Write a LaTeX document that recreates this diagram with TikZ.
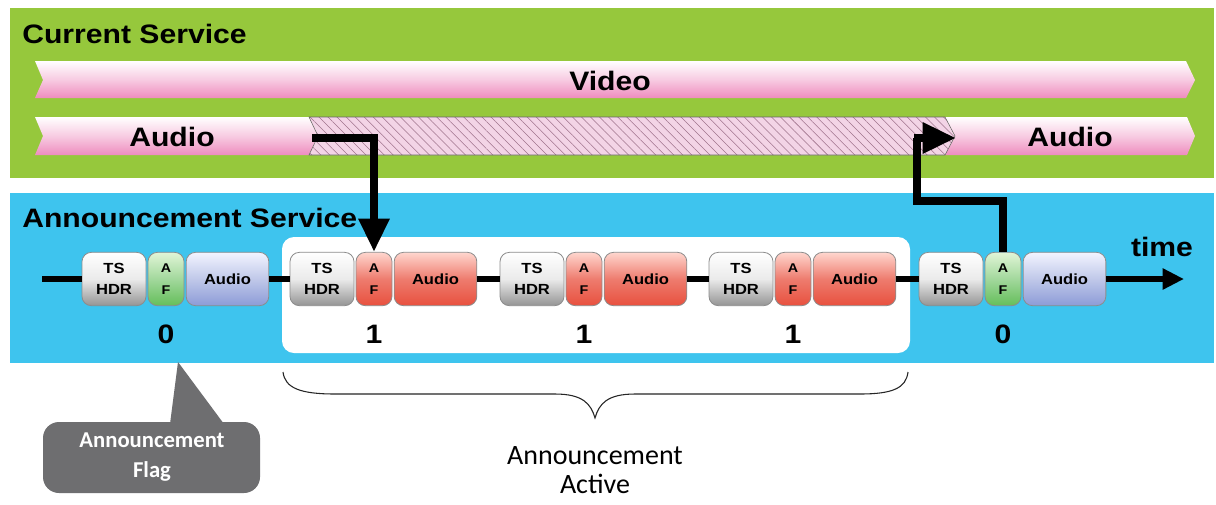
\documentclass[tikz,border=0pt]{standalone}
\usepackage{fontspec}
\setmainfont{Liberation Sans}
\newfontfamily\widesans[FakeStretch=1.13]{Liberation Sans}
\newfontfamily\carl{Carlito}
\usetikzlibrary{arrows.meta,patterns.meta}
\definecolor{greenbg}{RGB}{150,200,60}
\definecolor{bluebg}{RGB}{62,196,238}
\definecolor{pinkband}{RGB}{238,140,190}
\definecolor{hatchfill}{RGB}{243,212,230}
\definecolor{hatchline}{RGB}{160,115,140}
\definecolor{calloutgray}{RGB}{110,110,112}
\definecolor{pktred}{RGB}{232,80,62}
\definecolor{pktredtop}{RGB}{255,214,206}
\definecolor{pktgreen}{RGB}{100,190,90}
\definecolor{pktgreentop}{RGB}{225,245,215}
\definecolor{pktblue}{RGB}{140,155,215}
\definecolor{pktbluetop}{RGB}{242,244,255}
\begin{document}
\begin{tikzpicture}[x=0.75pt,y=-0.75pt,
  biglbl/.style={font=\widesans\bfseries\fontsize{20}{24}\selectfont, inner sep=0pt},
  pkt/.style={draw=black!45, line width=0.6pt, rounded corners=7pt, minimum height=40pt, inner sep=0pt, align=center},
  tsbox/.style={pkt, minimum width=48pt, top color=white, bottom color=black!42, middle color=black!8, font=\widesans\bfseries\fontsize{11}{16}\selectfont},
  afgreen/.style={pkt, minimum width=27pt, top color=pktgreentop, bottom color=pktgreen, middle color=pktgreen!60, font=\widesans\bfseries\fontsize{9.5}{16}\selectfont},
  afred/.style={pkt, minimum width=27pt, top color=pktredtop, bottom color=pktred, middle color=pktred!75, font=\widesans\bfseries\fontsize{9.5}{16}\selectfont},
  aublue/.style={pkt, minimum width=62pt, top color=pktbluetop, bottom color=pktblue, middle color=pktblue!55, font=\widesans\bfseries\fontsize{11}{16}\selectfont},
  aured/.style={pkt, minimum width=62pt, top color=pktredtop, bottom color=pktred, middle color=pktred!75, font=\widesans\bfseries\fontsize{11}{16}\selectfont},
  band/.style={top color=white, bottom color=pinkband, middle color=pinkband!45},
  tline/.style={line width=4.5pt},
  bigarrow/.style={line width=6pt, miter limit=10, -{Triangle[length=25pt,width=22pt]}}
]
\useasboundingbox (0,0) rectangle (1216,504);
\fill[white] (0,0) rectangle (1216,504);

% backgrounds
\node (cur) [fill=greenbg, minimum width=903pt, minimum height=127.5pt, inner sep=0pt] at (612,93) {};
\node (ann) [fill=bluebg, minimum width=903pt, minimum height=127.5pt, inner sep=0pt] at (612,278) {};
\node (curlbl) [biglbl, anchor=west] at (22,34) {Current Service};
\node (annlbl) [biglbl, anchor=west] at (22,218) {Announcement Service};

% bands
\path[band] (35,61) -- (1186,61) -- (1195,80) -- (1186,98) -- (35,98) -- (43,80) -- cycle;
\node (video) [biglbl] at (610,81) {Video};
\path[band] (35,117) -- (309,117) -- (318,136) -- (309,155) -- (35,155) -- (43,136) -- cycle;
\path[band] (945,117) -- (1187,117) -- (1195,136) -- (1187,155) -- (945,155) -- (955,136) -- cycle;
\fill[hatchfill] (309,117) -- (945,117) -- (955,136) -- (945,155) -- (309,155) -- (318,136) -- cycle;
\path[pattern={Lines[angle=-45,distance=4.8pt,line width=0.4pt]}, pattern color=hatchline]
  (309,117) -- (945,117) -- (955,136) -- (945,155) -- (309,155) -- (318,136) -- cycle;
\draw[black!60, line width=0.4pt] (309,117) -- (945,117) -- (955,136) -- (945,155) -- (309,155) -- (318,136) -- cycle;
\node (audioL) [biglbl] at (172,137) {Audio};
\node (audioR) [biglbl] at (1070,137) {Audio};

% active box
\node (activebox) [fill=white, rounded corners=9pt, minimum width=471pt, minimum height=87pt, inner sep=0pt] at (596,295) {};

% timeline coordinates
\coordinate (tl0) at (42,279);
\coordinate (tl1) at (1184,279);

% packets
\node (ts1) [tsbox] at (114,279) {TS\\HDR};
\node (af1) [afgreen] at (166,279) {A\\F};
\node (au1) [aublue] at (227.5,279) {Audio};
\node (ts2) [tsbox] at (322,279) {TS\\HDR};
\node (af2) [afred] at (374,279) {A\\F};
\node (au2) [aured] at (435.5,279) {Audio};
\node (ts3) [tsbox] at (532,279) {TS\\HDR};
\node (af3) [afred] at (584,279) {A\\F};
\node (au3) [aured] at (645.5,279) {Audio};
\node (ts4) [tsbox] at (741,279) {TS\\HDR};
\node (af4) [afred] at (793,279) {A\\F};
\node (au4) [aured] at (854.5,279) {Audio};
\node (ts5) [tsbox] at (951,279) {TS\\HDR};
\node (af5) [afgreen] at (1003,279) {A\\F};
\node (au5) [aublue] at (1064.5,279) {Audio};

% timeline segments
\draw[tline] (tl0) -- (ts1.west);
\draw[tline] (au1.east) -- (ts2.west);
\draw[tline] (au2.east) -- (ts3.west);
\draw[tline] (au3.east) -- (ts4.west);
\draw[tline] (au4.east) -- (ts5.west);
\draw[tline, -{Triangle[length=16pt,width=15pt]}] (au5.east) -- (tl1);
\node (time) [biglbl] at (1162,247) {time};

% flag values
\node (v1) [biglbl] at (166,334) {0};
\node (v2) [biglbl] at (374,334) {1};
\node (v3) [biglbl] at (584,334) {1};
\node (v4) [biglbl] at (793,334) {1};
\node (v5) [biglbl] at (1003,334) {0};

% switching arrows
\coordinate (a1s) at (312,138);
\draw[bigarrow] (a1s) -| (af2.north);
\coordinate (bend) at (917,201);
\coordinate (a2e) at (956,138);
\draw[line width=6pt, miter limit=10] (af5.north) |- (bend) -- (917,138);
\draw[bigarrow] (914,138) -- (a2e);

% brace
\coordinate (brL) at (283,372);
\coordinate (brR) at (908,372);
\coordinate (brTip) at (595,418);
\draw[line width=0.8pt, black!85] (brL) .. controls (285,388) and (300,394) .. (335,394)
  -- (555,394) .. controls (583,394) and (591,404) .. (brTip)
  .. controls (599,404) and (607,394) .. (635,394) -- (860,394)
  .. controls (893,394) and (906,388) .. (brR);
\node (active) [font=\carl\fontsize{21}{22}\selectfont, align=center, anchor=north, inner sep=0pt] at (595,446) {Announcement\\Active};

% callout
\fill[calloutgray, rounded corners=12pt] (43,422) rectangle (260,493);
\fill[calloutgray] (170,424) -- (178,362) -- (224,424) -- cycle;
\node (flag) [font=\carl\bfseries\fontsize{17}{22}\selectfont, text=white, align=center] at (152,457) {Announcement\\Flag};
\end{tikzpicture}
\end{document}
